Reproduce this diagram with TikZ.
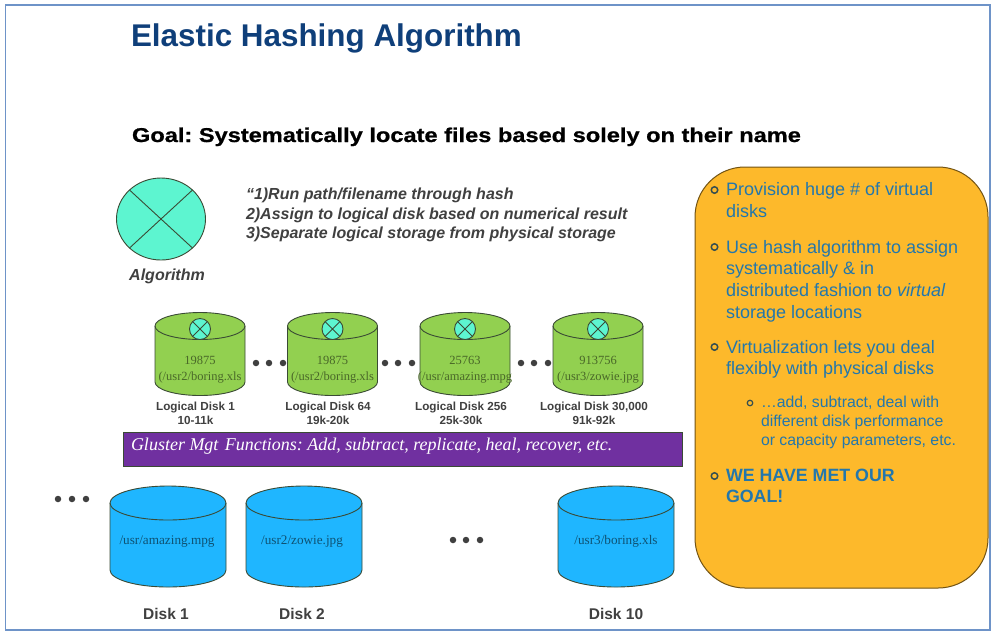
\documentclass[tikz,border=0pt]{standalone}
\usepackage{graphicx}
\usepackage{fontspec}
\setmainfont{Liberation Sans}
\newfontfamily\serifx{Liberation Serif}
\newfontfamily\goalfont[FakeBold=0.7]{Liberation Sans Bold}
\definecolor{titleblue}{HTML}{0F3F7A}
\definecolor{frameblue}{HTML}{6E93C8}
\definecolor{teal}{HTML}{5DF5D0}
\definecolor{greenc}{HTML}{92D050}
\definecolor{bluec}{HTML}{1FB6FF}
\definecolor{purplebar}{HTML}{7030A0}
\definecolor{panel}{HTML}{FDB92B}
\definecolor{paneltext}{HTML}{2377AC}
\definecolor{greytext}{HTML}{404040}
\definecolor{edgec}{HTML}{3A4A35}
\tikzset{
  x=1pt,y=-1pt,
  txt/.style={inner sep=0pt,outer sep=0pt,anchor=base west,align=left},
  ctr/.style={inner sep=0pt,outer sep=0pt,anchor=base,align=center},
  ptext/.style={txt,text=paneltext,font=\fontsize{18}{18}\selectfont},
  psub/.style={txt,text=paneltext,font=\fontsize{15.8}{15.8}\selectfont},
  pbold/.style={txt,text=paneltext,font=\bfseries\fontsize{17.8}{18}\selectfont},
  lab/.style={ctr,text=greytext,font=\bfseries\fontsize{11.7}{13}\selectfont},
  dlab/.style={ctr,text=greytext,font=\bfseries\fontsize{15.5}{16}\selectfont},
  gtxt/.style={ctr,text=black!50!greenc,font=\serifx\fontsize{12.5}{12.5}\selectfont},
  btxt/.style={ctr,text=black!55!bluec,font=\serifx\fontsize{13.2}{13.2}\selectfont},
  step text/.style={txt,text=greytext,font=\bfseries\itshape\fontsize{16}{16}\selectfont},
  dotc/.style={circle,fill=greytext,inner sep=0pt,minimum size=6.5pt},
  bullet/.style={circle,draw=paneltext!50!black!85!panel,line width=1.5pt,inner sep=0pt,minimum size=6.5pt},
}
% cx, half width, side top y, ellipse half height, body height, fill
\newcommand{\cyl}[6]{%
  \draw[edgec,line width=0.9pt,fill=#6]
    (#1-#2,#3) .. controls (#1-#2,#3-0.5523*#4) and (#1-0.5523*#2,#3-#4) .. (#1,#3-#4)
    .. controls (#1+0.5523*#2,#3-#4) and (#1+#2,#3-0.5523*#4) .. (#1+#2,#3)
    -- (#1+#2,#3+#5)
    .. controls (#1+#2,#3+#5+0.5523*#4) and (#1+0.5523*#2,#3+#5+#4) .. (#1,#3+#5+#4)
    .. controls (#1-0.5523*#2,#3+#5+#4) and (#1-#2,#3+#5+0.5523*#4) .. (#1-#2,#3+#5)
    -- cycle;
  \draw[edgec,line width=0.9pt]
    (#1-#2,#3) .. controls (#1-#2,#3+0.5523*#4) and (#1-0.5523*#2,#3+#4) .. (#1,#3+#4)
    .. controls (#1+0.5523*#2,#3+#4) and (#1+#2,#3+0.5523*#4) .. (#1+#2,#3);
}
\newcommand{\xcirc}[4]{%
  \draw[edgec,line width=0.9pt,fill=teal] (#1,#2) ellipse[x radius=#3,y radius=#4];
  \draw[edgec,line width=0.9pt]
    (#1-0.7071*#3,#2-0.7071*#4) -- (#1+0.7071*#3,#2+0.7071*#4)
    (#1-0.7071*#3,#2+0.7071*#4) -- (#1+0.7071*#3,#2-0.7071*#4);
}
\begin{document}
\frenchspacing
\begin{tikzpicture}
\useasboundingbox (0,0) rectangle (1008,641);
\fill[white] (0,0) rectangle (1008,641);
\draw[frameblue,line width=1.4pt] (5.5,5) rectangle (990,630);
\node[txt,text=titleblue,font=\bfseries\fontsize{31.4}{32}\selectfont] (title) at (131,46) {Elastic Hashing Algorithm};
\node[txt,text=black,font=\goalfont\fontsize{20}{20}\selectfont] (goal) at (132,142) {\scalebox{1.18}[1]{Goal: Systematically locate files based solely on their name}};
% algorithm
\xcirc{161}{219}{44.5}{41}
\node[ctr,text=greytext,font=\bfseries\itshape\fontsize{16}{16}\selectfont] (alg) at (167,280) {Algorithm};
\node[step text] (stepa) at (246,199) {“1)Run path/filename through hash};
\node[step text] (stepb) at (246,219) {2)Assign to logical disk based on numerical result};
\node[step text] (stepc) at (246,238) {3)Separate logical storage from physical storage};
% logical disks
\cyl{200}{45}{326}{13.5}{56}{greenc}\xcirc{200}{329}{10.5}{10.5}
\cyl{332.5}{45}{326}{13.5}{56}{greenc}\xcirc{332.5}{329}{10.5}{10.5}
\cyl{465}{45}{326}{13.5}{56}{greenc}\xcirc{465}{329}{10.5}{10.5}
\cyl{598}{45}{326}{13.5}{56}{greenc}\xcirc{598}{329}{10.5}{10.5}
\node[gtxt] (n1) at (200,364) {19875};
\node[gtxt] (p1) at (200,380) {(/usr2/boring.xls};
\node[gtxt] (n2) at (332.5,364) {19875};
\node[gtxt] (p2) at (332.5,380) {(/usr2/boring.xls};
\node[gtxt] (n3) at (465,364) {25763};
\node[gtxt] (p3) at (465,380) {(/usr/amazing.mpg};
\node[gtxt] (n4) at (598,364) {913756};
\node[gtxt] (p4) at (598,380) {(/usr3/zowie.jpg};
\node[lab] (l1) at (195.5,410) {Logical Disk 1};
\node[lab] (k1) at (195.5,424) {10-11k};
\node[lab] (l2) at (328,410) {Logical Disk 64};
\node[lab] (k2) at (328,424) {19k-20k};
\node[lab] (l3) at (461,410) {Logical Disk 256};
\node[lab] (k3) at (461,424) {25k-30k};
\node[lab] (l4) at (594,410) {Logical Disk 30,000};
\node[lab] (k4) at (594,424) {91k-92k};
\foreach \x in {256,269,283,385,398,412,521,534,548} \node[dotc] at (\x,363) {};
\foreach \x in {58,72,86} \node[dotc] at (\x,499) {};
\foreach \x in {453,466,480} \node[dotc] at (\x,540) {};
% bar
\draw[edgec,line width=0.8pt,fill=purplebar] (123,432) rectangle (682,466);
\node[txt,text=white,font=\serifx\itshape\fontsize{18}{18}\selectfont] (bar) at (131,450) {Gluster Mgt\hspace{0.35em}Functions:\ Add,\ subtract,\ replicate,\ heal,\ recover,\ etc.};
% physical
\cyl{168}{58}{503}{17}{67}{bluec}
\cyl{304}{58}{503}{17}{67}{bluec}
\cyl{616}{58}{503}{17}{67}{bluec}
\node[btxt] (d1) at (167,544) {/usr/amazing.mpg};
\node[btxt] (d2) at (302,544) {/usr2/zowie.jpg};
\node[btxt] (d3) at (616,544) {/usr3/boring.xls};
\node[dlab] (e1) at (166,619) {Disk 1};
\node[dlab] (e2) at (302,619) {Disk 2};
\node[dlab] (e3) at (616,619) {Disk 10};
% panel
\draw[black!55!panel,line width=1pt,fill=panel,rounded corners=50pt] (695,167) rectangle (988,588);
\foreach \y in {190,247,347,476} \node[bullet] at (714.5,\y) {};
\node[bullet,minimum size=5.5pt,line width=1.2pt] at (750,403) {};
\node[ptext] (a1) at (726,195) {Provision huge \# of virtual};
\node[ptext] (a2) at (726,217) {disks};
\node[ptext] (b1) at (726,253) {Use hash algorithm to assign};
\node[ptext] (b2) at (726,274) {systematically \& in};
\node[ptext] (b3) at (726,296) {distributed fashion to \textit{virtual}};
\node[ptext] (b4) at (726,318) {storage locations};
\node[ptext] (c1) at (726,353) {Virtualization lets you deal};
\node[ptext] (c2) at (726,374) {flexibly with physical disks};
\node[psub] (s1) at (761,407) {…add, subtract, deal with};
\node[psub] (s2) at (761,426) {different disk performance};
\node[psub] (s3) at (761,445) {or capacity parameters, etc.};
\node[pbold] (g1) at (726,481) {WE HAVE MET OUR};
\node[pbold] (g2) at (726,502) {GOAL!};
\end{tikzpicture}
\end{document}
